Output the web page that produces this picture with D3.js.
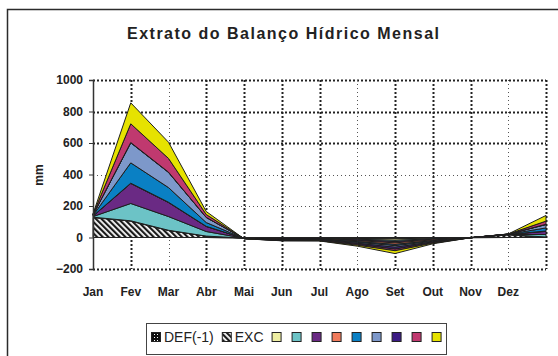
<!DOCTYPE html>
<html>
<head>
<meta charset="utf-8">
<script src="https://cdn.jsdelivr.net/npm/d3@7/dist/d3.min.js"></script>
<style>
  html, body { margin: 0; padding: 0; background: #fff; }
  svg { display: block; font-family: Arial, "Liberation Sans", sans-serif; }
</style>
</head>
<body>
<svg id="chart" width="558" height="356"></svg>
<script>
// Month labels (13 points: the last one closes the year without a label)
const months = ["Jan", "Fev", "Mar", "Abr", "Mai", "Jun", "Jul", "Ago", "Set", "Out", "Nov", "Dez"];
const yTicks = [-200, 0, 200, 400, 600, 800, 1000];

// Series, in stacking order (mm)
const def   = [0, 0, 0, 0, -3, -4, -4, -6, -8, -4, -1, 0, 0];
const exc   = [127, 104, 44, 8, 0, 0, 0, 0, 0, 0, 0, 18, 0];
const s1    = [2, 2, 2, 1, -1, -2, -2, -5, -10, -4, -0.5, 0.5, 3];
const s2    = [4, 110, 87, 29, -0.5, -2, -2, -4, -8, -3, 0, 0.5, 16];
const s3    = [3, 127, 89, 32, -0.5, -2, -2, -5, -8, -4, 0, 0.5, 20];
const s4    = [1, 2, 2, 1, -0.5, -2, -2, -6, -10, -5, 0, 0.5, 2];
const s5    = [3, 129, 93, 24, -0.5, -2, -2, -5, -8, -4, 0, 0.5, 20];
const s6    = [3, 127, 96, 32, -0.5, -2, -2, -6, -10, -4, 0, 0.5, 21];
const s7    = [1, 2, 2, 1, -0.5, -2, -2, -6, -12, -4, 0, 0.5, 2];
const s8    = [3, 119, 87, 18, -0.5, -2, -2, -6, -10, -4, 0, 0.5, 20];
const s9    = [3, 133, 103, 19, -0.5, -1, -2, -6, -18, -4, 0, 0.5, 36];

const seriesKeys   = ["def", "exc", "s1", "s2", "s3", "s4", "s5", "s6", "s7", "s8", "s9"];
const seriesLabels = ["DEF(-1)", "EXC", "", "", "", "", "", "", "", "", ""];
const seriesValues = [def, exc, s1, s2, s3, s4, s5, s6, s7, s8, s9];
const seriesFills  = ["url(#patDef)", "url(#patExc)", "#eeeea2", "#6cc3c6", "#6a2a84",
                      "#f07b5c", "#0a80c4", "#7d98ca", "#3c1c84", "#c0396f", "#e6e200"];

const svg = d3.select("#chart");

// Patterns for the deficit / excess areas
const defs = svg.append("defs");
const pd = defs.append("pattern").attr("id", "patDef").attr("patternUnits", "userSpaceOnUse")
  .attr("width", 3).attr("height", 3);
pd.append("rect").attr("width", 3).attr("height", 3).attr("fill", "#111");
pd.append("rect").attr("x", 1).attr("y", 1).attr("width", 1).attr("height", 1).attr("fill", "#fff");

const pe = defs.append("pattern").attr("id", "patExc").attr("patternUnits", "userSpaceOnUse")
  .attr("width", 4).attr("height", 4).attr("patternTransform", "rotate(-45)");
pe.append("rect").attr("width", 4).attr("height", 4).attr("fill", "#fff");
pe.append("rect").attr("width", 2.2).attr("height", 4).attr("fill", "#1a1a1a");

// Outer chart frame
svg.append("rect").attr("x", 7.5).attr("y", 9.5).attr("width", 620).attr("height", 420)
  .attr("fill", "none").attr("stroke", "#2b2b2b").attr("stroke-width", 1.5);

// Title
svg.append("text").attr("x", 127).attr("y", 39)
  .attr("textLength", 312).attr("lengthAdjust", "spacing")
  .attr("font-size", 16).attr("font-weight", "bold").attr("fill", "#222")
  .text("Extrato do Balanço Hídrico Mensal");

// Scales
const x = d3.scaleLinear().domain([0, 12]).range([93, 546]);
const y = d3.scaleLinear().domain([-200, 1000]).range([269, 80]);

// Gridlines
const lightH = new Set([200, 400]);
const grid = svg.append("g");
yTicks.filter(v => v !== 0).forEach(v => {
  const light = lightH.has(v);
  grid.append("line").attr("x1", x(0)).attr("x2", x(12))
    .attr("y1", Math.round(y(v)) + 0.5).attr("y2", Math.round(y(v)) + 0.5)
    .attr("stroke", light ? "#555" : "#222")
    .attr("stroke-width", light ? 1 : 2)
    .attr("stroke-dasharray", light ? "1,3" : "2,2");
});
const lightV = new Set([2, 7, 11]);
d3.range(1, 13).forEach(i => {
  const light = lightV.has(i);
  grid.append("line").attr("y1", y(1000)).attr("y2", y(-200))
    .attr("x1", Math.round(x(i)) + 0.5).attr("x2", Math.round(x(i)) + 0.5)
    .attr("stroke", light ? "#555" : "#222")
    .attr("stroke-width", light ? 1 : 2)
    .attr("stroke-dasharray", light ? "1,3" : "2,2");
});

// Stacked areas (cumulative, like a classic stacked area chart)
const table = d3.range(13).map(i => {
  const row = { i };
  seriesKeys.forEach((k, j) => row[k] = seriesValues[j][i]);
  return row;
});
const stacked = d3.stack().keys(seriesKeys).offset(d3.stackOffsetNone)(table);

const area = d3.area()
  .x(d => x(d.data.i))
  .y0(d => y(d[0]))
  .y1(d => y(d[1]));

svg.append("g").selectAll("path").data(stacked).join("path")
  .attr("d", area)
  .attr("fill", (d, j) => seriesFills[j])
  .attr("stroke", "#1e1e1e")
  .attr("stroke-width", 1)
  .attr("stroke-linejoin", "round");

// Zero line
svg.append("line").attr("x1", x(0)).attr("x2", x(12))
  .attr("y1", y(0)).attr("y2", y(0)).attr("stroke", "#222").attr("stroke-width", 1);

// Y axis
const yAxis = d3.axisLeft(y).tickValues(yTicks).tickSize(4).tickPadding(6).tickFormat(d3.format("d"));
const ya = svg.append("g").attr("transform", `translate(${x(0)},0)`).call(yAxis);
ya.select(".domain").attr("stroke", "#333").attr("stroke-width", 1.5);
ya.selectAll(".tick line").attr("stroke", "#333");
ya.selectAll("text").attr("font-size", 12).attr("font-weight", "bold").attr("fill", "#222")
  .attr("font-family", "Arial, 'Liberation Sans', sans-serif");

// X labels
const xa = svg.append("g");
months.forEach((m, i) => {
  xa.append("text").attr("x", x(i)).attr("y", 296).attr("text-anchor", "middle")
    .attr("font-size", 12).attr("font-weight", "bold").attr("fill", "#222").text(m);
});

// Y title
svg.append("text").attr("transform", "translate(43,175) rotate(-90)")
  .attr("text-anchor", "middle").attr("font-size", 12).attr("font-weight", "bold")
  .attr("fill", "#222").text("mm");

// Legend
const lg = svg.append("g");
lg.append("rect").attr("x", 146.5).attr("y", 323.5).attr("width", 300).attr("height", 31)
  .attr("fill", "#fff").attr("stroke", "#444").attr("stroke-width", 1);
let lx = 151;
seriesKeys.forEach((k, j) => {
  lg.append("rect").attr("x", lx + 0.5).attr("y", 332.5).attr("width", 9).attr("height", 9)
    .attr("fill", seriesFills[j]).attr("stroke", "#222").attr("stroke-width", 1);
  if (seriesLabels[j]) {
    const t = lg.append("text").attr("x", lx + 13).attr("y", 342)
      .attr("font-size", 14).attr("fill", "#222").text(seriesLabels[j]);
    lx += 13 + t.node().getComputedTextLength() + 8;
  } else {
    lx += 20;
  }
});
</script>
</body>
</html>
